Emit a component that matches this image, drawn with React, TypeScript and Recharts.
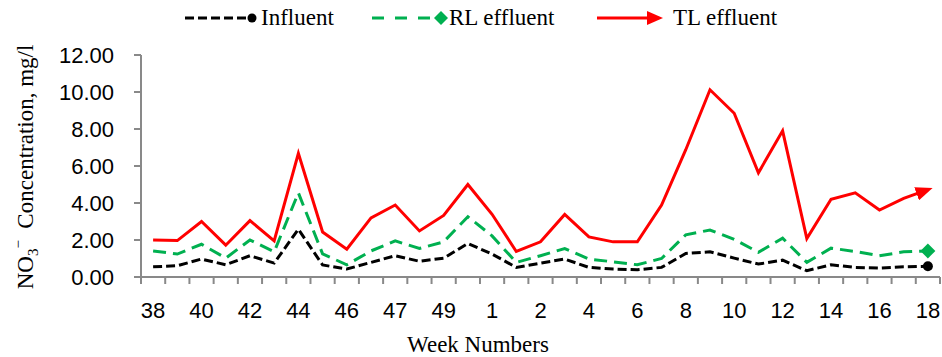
import React from 'react';
import { LineChart, Line, XAxis, YAxis } from 'recharts';

// ---- data ----
const weeks = ['38','39','40','41','42','43','44','45','46','46','47','48','49','50','1','1','2','3','4','5','6','7','8','9','10','11','12','13','14','15','16','17','18'];
const influent = [0.55,0.61,0.97,0.66,1.15,0.75,2.58,0.65,0.43,0.79,1.15,0.85,1.02,1.81,1.24,0.52,0.75,0.97,0.52,0.43,0.39,0.52,1.27,1.36,1.02,0.70,0.91,0.34,0.66,0.52,0.48,0.55,0.58];
const rlEffluent = [1.41,1.24,1.77,1.02,2.00,1.36,4.55,1.25,0.66,1.41,1.95,1.54,1.90,3.26,2.22,0.79,1.15,1.54,0.97,0.82,0.66,1.00,2.28,2.54,2.04,1.33,2.10,0.79,1.56,1.38,1.15,1.36,1.41];
const tlEffluent = [2.00,1.97,3.00,1.72,3.05,1.95,6.68,2.43,1.50,3.20,3.89,2.49,3.33,5.00,3.39,1.38,1.90,3.38,2.17,1.90,1.90,3.89,6.88,10.12,8.85,5.63,7.90,2.08,4.20,4.55,3.62,4.25,4.72];
const yTicks = [0, 2, 4, 6, 8, 10, 12];
const seriesNames = ['Influent', 'RL effluent', 'TL effluent'];

const data = weeks.map((w, i) => ({
  idx: i + 1,
  week: w,
  influent: influent[i],
  rl: rlEffluent[i],
  tl: tlEffluent[i],
}));

// tick positions: category centers and boundaries
const xTicks: number[] = [];
for (let k = 0; k <= weeks.length * 2; k++) xTicks.push(0.5 + k / 2);

const AXIS = '#898989';
const SANS = '"Liberation Sans", Arial, sans-serif';
const SERIF = '"Liberation Serif", "Times New Roman", serif';
const BLACK = '#000000';
const GREEN = '#00B050';
const RED = '#FF0000';
const LAST = weeks.length - 1;

const XTick = (props: any) => {
  const { x, y, payload } = props;
  const v = payload.value as number;
  if (!Number.isInteger(v)) {
    return <line x1={x} x2={x} y1={y} y2={y + 7} stroke={AXIS} strokeWidth={2} />;
  }
  const i = v - 1;
  if (i % 2 !== 0) return <g />;
  return (
    <text x={x} y={y + 41} textAnchor="middle" fontFamily={SANS} fontSize={22} fill="#000">
      {weeks[i]}
    </text>
  );
};

const InfluentDot = (props: any) => {
  const { cx, cy, index } = props;
  if (index !== LAST) return <g key={`d${index}`} />;
  return <circle key={`d${index}`} cx={cx} cy={cy} r={5} fill={BLACK} />;
};

const RlDot = (props: any) => {
  const { cx, cy, index } = props;
  if (index !== LAST) return <g key={`r${index}`} />;
  const s = 7.5;
  return (
    <path key={`r${index}`} d={`M${cx},${cy - s} L${cx + s},${cy} L${cx},${cy + s} L${cx - s},${cy} Z`} fill={GREEN} />
  );
};

const YLabel = () => (
  <text
    transform="translate(33,167) rotate(-90)"
    textAnchor="middle"
    fontFamily={SERIF}
    fontSize={23}
    fill="#000"
    style={{ whiteSpace: 'pre' }}
  >
    NO
    <tspan fontSize={15} dy={5}>3</tspan>
    <tspan fontSize={15} dy={-15}>{'\u2212'}</tspan>
    <tspan fontSize={23} dy={10}>{'  Concentration, mg/l'}</tspan>
  </text>
);

const XLabel = () => (
  <text x={478} y={352} textAnchor="middle" fontFamily={SERIF} fontSize={23} fill="#000">
    Week Numbers
  </text>
);

const LegendBar = () => (
  <div
    style={{
      position: 'absolute',
      left: 185,
      top: 5,
      height: 26,
      display: 'flex',
      alignItems: 'center',
      fontFamily: SERIF,
      fontSize: 23,
      color: '#000',
      whiteSpace: 'nowrap',
    }}
  >
    <div style={{ width: 187, display: 'flex', alignItems: 'center' }}>
      <svg width={76} height={20}>
        <line x1={0} x2={67} y1={10} y2={10} stroke={BLACK} strokeWidth={3} strokeDasharray="9 4" />
        <circle cx={67} cy={10} r={4.5} fill={BLACK} />
      </svg>
      <span>{seriesNames[0]}</span>
    </div>
    <div style={{ width: 225, display: 'flex', alignItems: 'center' }}>
      <svg width={77} height={20}>
        <line x1={0} x2={68} y1={10} y2={10} stroke={GREEN} strokeWidth={3} strokeDasharray="12 11" />
        <path d="M69,3 L76,10 L69,17 L62,10 Z" fill={GREEN} />
      </svg>
      <span>{seriesNames[1]}</span>
    </div>
    <div style={{ display: 'flex', alignItems: 'center' }}>
      <svg width={76} height={20}>
        <line x1={0} x2={54} y1={10} y2={10} stroke={RED} strokeWidth={3} />
        <path d="M50,3 L66,10 L50,17 Z" fill={RED} />
      </svg>
      <span>{seriesNames[2]}</span>
    </div>
  </div>
);

export default function App() {
  return (
    <div style={{ position: 'absolute', left: 0, top: 0, width: 942, height: 357, background: '#fff' }}>
      <svg width={0} height={0} style={{ position: 'absolute' }}>
        <defs>
          <marker
            id="tlArrow"
            markerUnits="userSpaceOnUse"
            markerWidth={18}
            markerHeight={14}
            refX={12}
            refY={7}
            orient="auto"
          >
            <path d="M0,0 L17,7 L0,14 Z" fill={RED} />
          </marker>
        </defs>
      </svg>
      <LineChart
        width={942}
        height={357}
        data={data}
        margin={{ top: 55, right: 2, bottom: 0, left: 0 }}
      >
        <XAxis
          dataKey="idx"
          type="number"
          domain={[0.5, weeks.length + 0.5]}
          ticks={xTicks}
          interval={0}
          allowDecimals
          tick={<XTick />}
          tickLine={false}
          tickSize={0}
          tickMargin={0}
          axisLine={{ stroke: AXIS, strokeWidth: 2 }}
          height={80}
          label={{ content: () => <XLabel /> }}
        />
        <YAxis
          type="number"
          domain={[0, 12]}
          ticks={yTicks}
          interval={0}
          width={141}
          tickFormatter={(v: number) => v.toFixed(2)}
          tick={{ fontFamily: SANS, fontSize: 22, fill: '#000' }}
          tickLine={{ stroke: AXIS, strokeWidth: 2 }}
          tickSize={7}
          tickMargin={20}
          axisLine={{ stroke: AXIS, strokeWidth: 2 }}
          label={{ content: () => <YLabel /> }}
        />
        <Line
          type="linear"
          dataKey="tl"
          name={seriesNames[2]}
          stroke={RED}
          strokeWidth={3}
          dot={false}
          activeDot={false}
          markerEnd="url(#tlArrow)"
          isAnimationActive={false}
        />
        <Line
          type="linear"
          dataKey="rl"
          name={seriesNames[1]}
          stroke={GREEN}
          strokeWidth={3}
          strokeDasharray="13 7"
          dot={<RlDot />}
          activeDot={false}
          isAnimationActive={false}
        />
        <Line
          type="linear"
          dataKey="influent"
          name={seriesNames[0]}
          stroke={BLACK}
          strokeWidth={3}
          strokeDasharray="9 4"
          dot={<InfluentDot />}
          activeDot={false}
          isAnimationActive={false}
        />
      </LineChart>
      <LegendBar />
    </div>
  );
}
